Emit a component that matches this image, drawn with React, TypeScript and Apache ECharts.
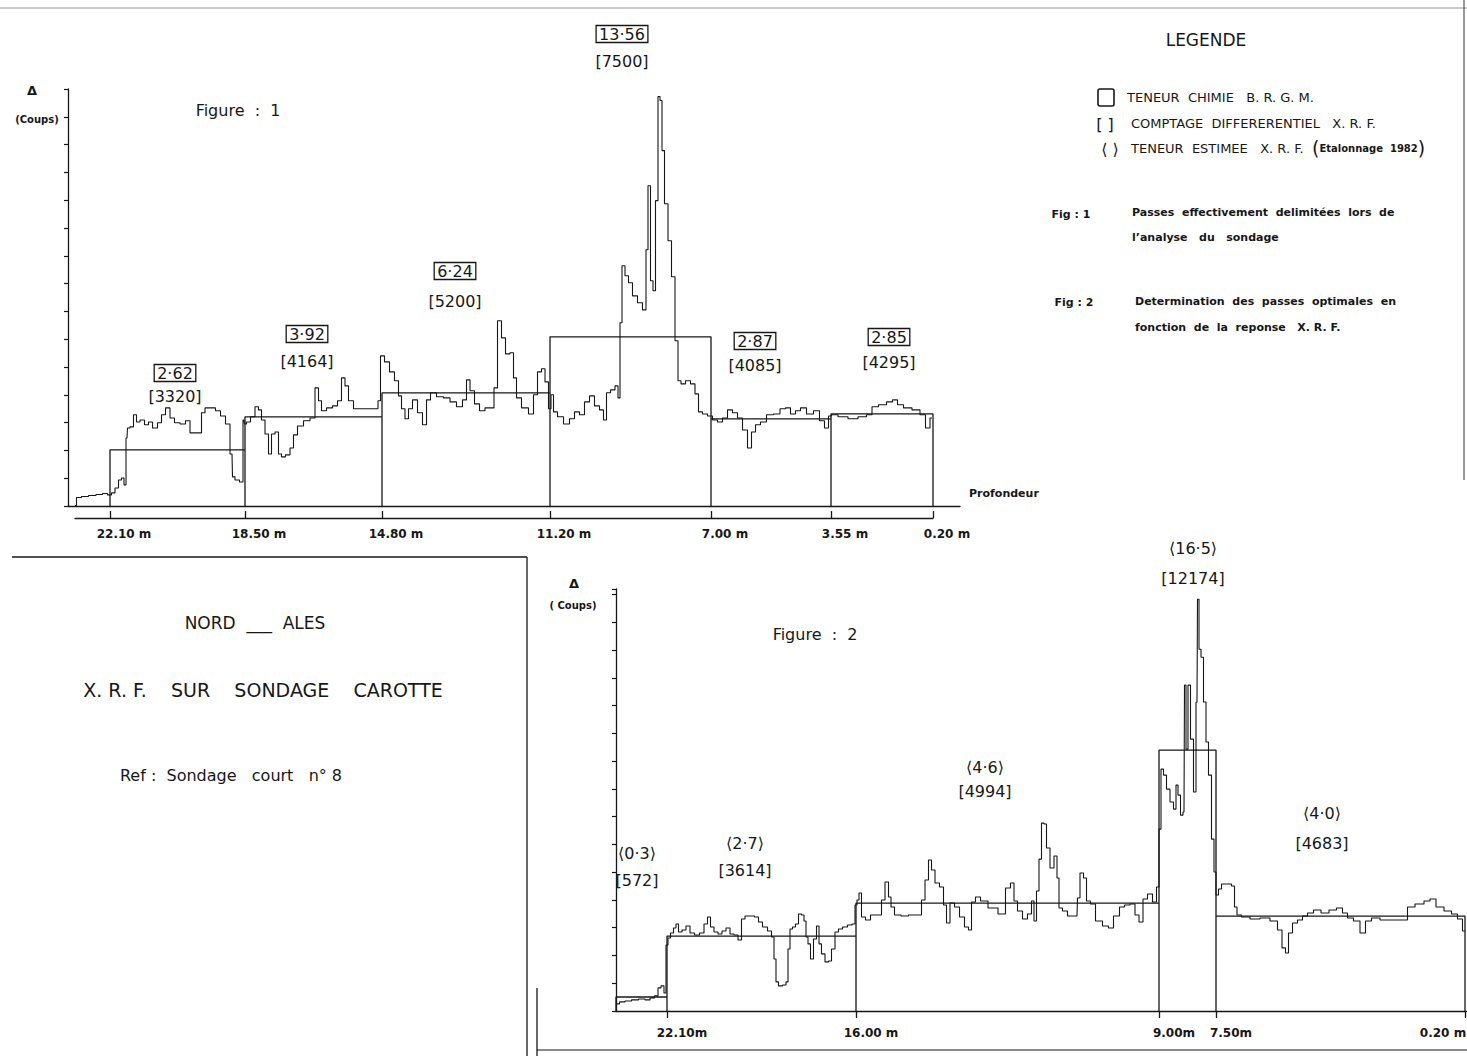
import React, { useEffect, useRef } from 'react';
import * as echarts from 'echarts';

// ---------- Figure 1 : passes effectivement délimitées ----------
const fig1Depths = ['22.10 m', '18.50 m', '14.80 m', '11.20 m', '7.00 m', '3.55 m', '0.20 m'];
const fig1Bounds = [42, 177, 314, 482, 643, 763, 865]; // position on the record
const fig1Levels = [2520, 4005, 5085, 7605, 3915, 4140]; // counts (pass level)
const fig1Chimie = ['2·62', '3·92', '6·24', '13·56', '2·87', '2·85'];
const fig1Counts = ['[3320]', '[4164]', '[5200]', '[7500]', '[4085]', '[4295]'];
const fig1Trace = [
  [7, 20], [10, 380], [17, 430], [24, 470], [32, 520], [37, 560], [42, 500], [45, 590], [49, 810], [52, 1170],
  [55, 1260], [57, 950], [59, 3060], [60, 3510], [64, 3560], [67, 4100], [70, 3780], [74, 3870], [79, 3650], [82, 3780],
  [87, 3510], [92, 3740], [95, 4100], [100, 4410], [104, 3960], [109, 3740], [115, 3690], [120, 3830], [124, 3290], [129, 3290],
  [132, 3290], [135, 4190], [139, 4410], [145, 4410], [150, 4280], [155, 4050], [160, 3690], [164, 2340], [165, 1310], [169, 1170],
  [174, 1080], [176, 3870],
  [177, 3690], [180, 3780], [185, 4010], [189, 4460], [192, 4320], [195, 3870], [199, 3240], [202, 2340], [205, 3240], [209, 3330],
  [212, 2340], [215, 2210], [220, 2300], [224, 2610], [227, 3200], [232, 3600], [239, 3830], [245, 3960], [249, 5310], [252, 4730],
  [255, 4280], [262, 4410], [267, 4500], [272, 4730], [275, 5760], [279, 5400], [282, 4730], [289, 4370], [299, 4370], [309, 4370],
  [311, 4730],
  [314, 6750], [319, 6480], [324, 6030], [329, 5630], [332, 4950], [335, 4370], [339, 3920], [342, 4370], [347, 4770], [352, 4190],
  [357, 3650], [360, 4770], [365, 5090], [372, 4910], [379, 4860], [385, 4680], [392, 4460], [397, 4770], [400, 5670], [404, 5180],
  [409, 4590], [414, 4280], [420, 4410], [425, 4410], [427, 5310], [432, 8330], [435, 7560], [440, 6840], [444, 6890], [447, 5760],
  [450, 4860], [457, 4410], [464, 4140], [467, 5000], [472, 6030], [475, 6170], [479, 5580],
  [482, 4370], [484, 5000], [487, 4230], [492, 4010], [499, 3690], [504, 3920], [509, 4230], [514, 4100], [519, 4680], [524, 4950],
  [529, 4500], [534, 4320], [537, 3870], [540, 5090], [545, 5220], [549, 5400], [551, 4860], [553, 8240], [555, 10800], [559, 10350],
  [562, 10040], [567, 9450], [572, 9140], [577, 8820], [579, 11520], [581, 14400], [584, 10130], [586, 9680], [589, 13730], [591, 18410],
  [593, 18230], [595, 15980], [598, 13590], [602, 11930], [605, 10310], [609, 7430], [611, 5630], [615, 5490], [620, 5630], [625, 5490],
  [629, 5040], [632, 4230], [637, 4140], [642, 4050],
  [647, 3870], [652, 3780], [657, 3960], [662, 4320], [667, 4190], [672, 3960], [677, 3420], [682, 2610], [685, 3330], [690, 3650],
  [695, 3780], [702, 4100], [709, 4140], [715, 4370], [720, 4410], [725, 4140], [730, 4280], [735, 4410], [742, 4140], [749, 4280],
  [754, 3830], [759, 3510], [762, 4050],
  [765, 4100], [775, 4010], [785, 3920], [795, 4010], [802, 4100], [806, 4460], [815, 4550], [822, 4680], [827, 4770], [832, 4550],
  [839, 4410], [849, 4320], [855, 4100], [860, 3510], [864, 3960],
];

// ---------- Figure 2 : passes optimales ----------
const fig2Depths = ['22.10m', '16.00 m', '9.00m', '7.50m', '0.20 m'];
const fig2Bounds = [0, 51, 240, 543, 600, 849];
const fig2Levels = [630, 3375, 4860, 11745, 4275];
const fig2Estimee = ['⟨0·3⟩', '⟨2·7⟩', '⟨4·6⟩', '⟨16·5⟩', '⟨4·0⟩'];
const fig2Counts = ['[572]', '[3614]', '[4994]', '[12174]', '[4683]'];
const fig2Trace = [
  [1, 320], [6, 410], [12, 450], [19, 500], [26, 540], [32, 500], [36, 590], [41, 680], [43, 1040], [47, 1130],
  [49, 810], [51, 2970], [53, 3290],
  [56, 3510], [59, 3740], [61, 3920], [64, 3560], [68, 3650], [72, 3830], [76, 3510], [81, 3420], [86, 3510], [90, 3920],
  [93, 4230], [96, 3780], [100, 3560], [104, 3470], [108, 3600], [112, 3740], [116, 3470], [120, 3420], [124, 3200], [127, 4140],
  [131, 4280], [136, 4280], [141, 4230], [144, 4010], [149, 3780], [154, 3600], [157, 3330], [159, 2340], [161, 1310], [164, 1130],
  [169, 1170], [171, 1310], [173, 2790], [175, 3690], [178, 3780], [181, 3920], [184, 4370], [187, 4320], [189, 4050], [191, 3330],
  [193, 3020], [196, 2340], [199, 3240], [202, 3830], [204, 3020], [207, 2570], [211, 2210], [214, 2250], [217, 2790], [221, 3560],
  [224, 3690], [229, 3780], [234, 3870], [238, 3920],
  [240, 4770], [242, 5000], [244, 5310], [247, 4230], [252, 4100], [257, 4320], [264, 4320], [267, 5000], [271, 5810], [274, 5130],
  [276, 4680], [281, 4320], [289, 4280], [296, 4320], [304, 4320], [307, 5000], [311, 5900], [314, 6800], [317, 6350], [321, 5760],
  [326, 5580], [329, 4770], [332, 3960], [336, 4860], [341, 4680], [346, 4230], [351, 3780], [354, 3650], [357, 4910], [362, 5130],
  [367, 4950], [377, 4640], [387, 4370], [392, 5540], [397, 5760], [399, 4950], [404, 4500], [409, 4140], [414, 4370], [417, 4950],
  [419, 4050], [422, 5400], [424, 6840], [427, 8460], [429, 8420], [432, 7340], [436, 6440], [440, 6980], [442, 5990], [444, 4640],
  [449, 4500], [454, 4280], [461, 4280], [462, 5090], [466, 6210], [469, 5990], [472, 4950], [477, 4820], [482, 4050], [491, 3830],
  [494, 3740], [501, 4280], [506, 4680], [511, 4770], [517, 4820], [521, 4320], [525, 4010], [529, 5040], [534, 5270], [539, 4910],
  [542, 5580],
  [544, 8190], [546, 10890], [549, 10620], [552, 9990], [556, 9410], [559, 9090], [561, 10170], [563, 9720], [566, 8820], [568, 8960],
  [569, 14670], [571, 11790], [573, 14670], [576, 12240], [579, 9860], [581, 13900], [582, 18540], [584, 16290], [586, 15930], [589, 13910],
  [591, 12110], [594, 10620], [597, 7740], [599, 6260],
  [601, 5220], [604, 5490], [607, 5720], [614, 5720], [617, 5630], [620, 4680], [622, 4320], [629, 4230], [639, 4140], [649, 4190],
  [659, 4050], [664, 3650], [668, 2840], [671, 2610], [674, 3510], [679, 3960], [684, 4100], [689, 4280], [694, 4410], [701, 4550],
  [709, 4410], [717, 4550], [724, 4640], [729, 4410], [734, 4190], [741, 4050], [747, 3510], [752, 4050], [759, 4190], [769, 4100],
  [779, 4100], [789, 4100], [794, 4680], [804, 4820], [812, 4950], [816, 5040], [824, 4680], [832, 4500], [839, 4370], [844, 4140],
  [849, 3600],
];

// ---------- layout (pixels) ----------
const fig1AnnotPos = [[175, 373, 396], [307, 334, 361], [455, 271, 301], [622, 34, 61], [755, 341, 365], [889, 337, 362]];
const fig2AnnotPos = [[637, 853, 880], [745, 843, 870], [985, 767, 791], [1193, 548, 578], [1322, 813, 843]];

const INK = '#171717';
const SANS = '"DejaVu Sans", "Noto Sans", sans-serif';

// keep runs of spaces visible in SVG (extra spaces become no-break spaces)
function keepSpaces(s: string) {
  return s.replace(/ {2,}/g, (m) => ' ' + '\u00A0'.repeat(m.length - 1));
}

function boxes(bounds: number[], levels: number[]) {
  const pts: number[][] = [];
  for (let i = 0; i < levels.length; i++) {
    pts.push([bounds[i], 0], [bounds[i], levels[i]], [bounds[i + 1], levels[i]], [bounds[i + 1], 0]);
  }
  return pts;
}

function txt(x: number, y: number, text: string, size: number, weight = 'normal', align = 'center', extra: any = {}) {
  return {
    type: 'text',
    x,
    y,
    silent: true,
    style: {
      text: keepSpaces(text),
      fontSize: size,
      fontWeight: weight,
      fontFamily: SANS,
      fill: INK,
      align,
      verticalAlign: 'middle',
      textAlign: align,
      textVerticalAlign: 'middle',
      ...extra,
    },
  };
}

function line(x1: number, y1: number, x2: number, y2: number, w = 1.3, color = INK) {
  return { type: 'line', silent: true, shape: { x1, y1, x2, y2 }, style: { stroke: color, lineWidth: w } };
}

function buildGraphic() {
  const g: any[] = [];
  fig1Chimie.forEach((c, i) => {
    const [x, y1, y2] = fig1AnnotPos[i];
    g.push(txt(x, y1, c, 16, 'normal', 'center', { borderColor: INK, borderWidth: 1.3, padding: [1, 3, 0, 3] }));
    g.push(txt(x, y2, fig1Counts[i], 16));
  });
  fig2Estimee.forEach((c, i) => {
    const [x, y1, y2] = fig2AnnotPos[i];
    g.push(txt(x, y1, c, 16));
    g.push(txt(x, y2, fig2Counts[i], 16));
  });
  // axis captions
  g.push(txt(32, 90, 'Δ', 13, 'bold'));
  g.push(txt(37, 119, '(Coups)', 10, 'bold'));
  g.push(txt(238, 110, 'Figure  :  1', 16));
  g.push(txt(969, 493, 'Profondeur', 11, 'bold', 'left'));
  g.push(txt(574, 583, 'Δ', 13, 'bold'));
  g.push(txt(573, 605, '( Coups)', 10, 'bold'));
  g.push(txt(815, 634, 'Figure  :  2', 16));
  // legend
  g.push(txt(1206, 40, 'LEGENDE', 17));
  g.push({ type: 'rect', silent: true, shape: { x: 1098, y: 89, width: 16, height: 17, r: 2 }, style: { fill: 'none', stroke: INK, lineWidth: 1.6 } });
  g.push(txt(1127, 97, 'TENEUR  CHIMIE   B. R. G. M.', 13, 'normal', 'left'));
  g.push(txt(1105, 124, '[ ]', 16));
  g.push(txt(1131, 123, 'COMPTAGE  DIFFERERENTIEL   X. R. F.', 13, 'normal', 'left'));
  g.push(txt(1110, 149, '⟨ ⟩', 16));
  g.push({
    type: 'text', x: 1131, y: 148, silent: true,
    style: {
      text: keepSpaces('{a|TENEUR  ESTIMEE   X. R. F.  }{b|(}{c|Etalonnage  1982}{b|)}'),
      fill: INK, fontFamily: SANS, align: 'left', verticalAlign: 'middle', textAlign: 'left', textVerticalAlign: 'middle',
      rich: {
        a: { fontSize: 13, fontFamily: SANS, fill: INK },
        b: { fontSize: 19, fontFamily: SANS, fill: INK },
        c: { fontSize: 10, fontWeight: 'bold', fontFamily: SANS, fill: INK },
      },
    },
  });
  g.push(txt(1071, 214, 'Fig : 1', 11, 'bold'));
  g.push(txt(1132, 212, 'Passes  effectivement  delimitées  lors  de', 11, 'bold', 'left'));
  g.push(txt(1132, 237, 'l’analyse   du   sondage', 11, 'bold', 'left'));
  g.push(txt(1074, 302, 'Fig : 2', 11, 'bold'));
  g.push(txt(1135, 301, 'Determination  des  passes  optimales  en', 11, 'bold', 'left'));
  g.push(txt(1135, 327, 'fonction  de  la  reponse   X. R. F.', 11, 'bold', 'left'));
  // title panel
  g.push(line(12, 557, 527, 557));
  g.push(line(527, 557, 527, 1056));
  g.push(txt(255, 623, 'NORD  ___  ALES', 17));
  g.push(txt(263, 690, 'X. R. F.    SUR    SONDAGE    CAROTTE', 19));
  g.push(txt(231, 775, 'Ref :  Sondage   court   n° 8', 16));
  // frame lines
  g.push(line(537, 988, 537, 1056));
  g.push(line(537, 1050, 1467, 1050, 1.2));
  g.push(line(0, 8, 1467, 8, 1, '#9a9a9a'));
  g.push(line(1464, 0, 1464, 480, 1.2, '#555'));
  return g;
}

function axisLineStyle() {
  return { show: true, onZero: false, lineStyle: { color: INK, width: 1.3 } };
}

export default function App() {
  const ref = useRef<HTMLDivElement>(null);
  useEffect(() => {
    document.body.style.margin = '0';
    document.body.style.overflow = 'hidden';
    if (!ref.current) return;
    const chart = echarts.init(ref.current, undefined, { renderer: 'svg' });
    const fig2TickVals = fig2Bounds.slice(1);
    const lastTick = fig2TickVals[fig2TickVals.length - 1];
    const option: any = {
      animation: false,
      backgroundColor: '#ffffff',
      grid: [
        { left: 68, top: 89, width: 892, height: 417, outerBoundsMode: 'none' },
        { left: 75, top: 517, width: 858, height: 1, outerBoundsMode: 'none' },
        { left: 616, top: 589, width: 851, height: 422, outerBoundsMode: 'none' },
      ],
      xAxis: [
        {
          gridIndex: 0, type: 'value', min: 0, max: 892,
          axisLine: axisLineStyle(), axisTick: { show: false }, axisLabel: { show: false }, splitLine: { show: false },
        },
        {
          gridIndex: 1, type: 'value', min: 7, max: 865,
          axisLine: axisLineStyle(),
          axisTick: { show: true, inside: true, length: 7, customValues: fig1Bounds, lineStyle: { color: INK, width: 1.3 } },
          axisLabel: {
            show: true, customValues: fig1Bounds, margin: 10, padding: [0, 0, 0, 28],
            formatter: (v: number) => fig1Depths[fig1Bounds.indexOf(v)] ?? '',
            fontSize: 12, fontWeight: 'bold', fontFamily: SANS, color: INK,
          },
          splitLine: { show: false },
        },
        {
          gridIndex: 2, type: 'value', min: 0, max: 851,
          axisLine: axisLineStyle(),
          axisTick: { show: true, inside: false, length: 7, customValues: fig2TickVals, lineStyle: { color: INK, width: 1.3 } },
          axisLabel: {
            show: true, customValues: fig2TickVals, margin: 16,
            formatter: (v: number) => {
              const s = fig2Depths[fig2TickVals.indexOf(v)] ?? '';
              return v === lastTick ? '{e|' + s + '}' : '{n|' + s + '}';
            },
            fontSize: 12, fontWeight: 'bold', fontFamily: SANS, color: INK,
            rich: {
              n: { fontSize: 12, fontWeight: 'bold', fontFamily: SANS, color: INK, padding: [0, 0, 0, 30] },
              e: { fontSize: 12, fontWeight: 'bold', fontFamily: SANS, color: INK, padding: [0, 44, 0, 0] },
            },
          },
          splitLine: { show: false },
        },
      ],
      yAxis: [
        {
          gridIndex: 0, type: 'value', min: 0, max: 18750, interval: 1250,
          axisLine: axisLineStyle(), axisTick: { show: true, length: 4, lineStyle: { color: INK, width: 1.2 } },
          axisLabel: { show: false }, splitLine: { show: false },
        },
        { gridIndex: 1, type: 'value', min: 0, max: 1, show: false },
        {
          gridIndex: 2, type: 'value', min: 0, max: 19000, interval: 1250,
          axisLine: axisLineStyle(), axisTick: { show: true, length: 4, lineStyle: { color: INK, width: 1.2 } },
          axisLabel: { show: false }, splitLine: { show: false },
        },
      ],
      series: [
        {
          name: 'Passes fig 1', type: 'line', xAxisIndex: 0, yAxisIndex: 0, data: boxes(fig1Bounds, fig1Levels),
          symbol: 'none', silent: true, clip: false, lineStyle: { color: INK, width: 1.3 },
        },
        {
          name: 'XRF fig 1', type: 'line', xAxisIndex: 0, yAxisIndex: 0, data: fig1Trace, step: 'middle',
          symbol: 'none', silent: true, clip: false, lineStyle: { color: INK, width: 1.1 },
        },
        {
          name: 'Passes fig 2', type: 'line', xAxisIndex: 2, yAxisIndex: 2, data: boxes(fig2Bounds, fig2Levels),
          symbol: 'none', silent: true, clip: false, lineStyle: { color: INK, width: 1.3 },
        },
        {
          name: 'XRF fig 2', type: 'line', xAxisIndex: 2, yAxisIndex: 2, data: fig2Trace, step: 'middle',
          symbol: 'none', silent: true, clip: false, lineStyle: { color: INK, width: 1.1 },
        },
      ],
      graphic: buildGraphic(),
    };
    chart.setOption(option);
    return () => chart.dispose();
  }, []);
  return (
    <div
      ref={ref}
      style={{ position: 'absolute', left: 0, top: 0, width: 1467, height: 1056, background: '#fff' }}
    />
  );
}
